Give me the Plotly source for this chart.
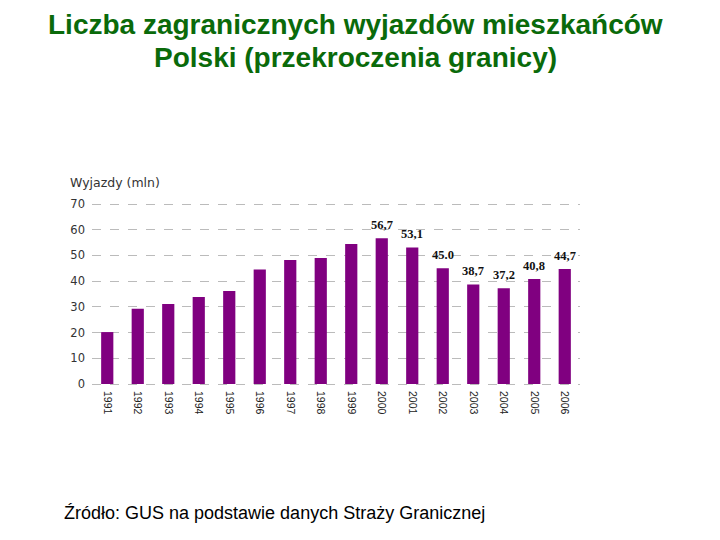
import plotly.graph_objects as go

years = ["1991", "1992", "1993", "1994", "1995", "1996", "1997", "1998",
         "1999", "2000", "2001", "2002", "2003", "2004", "2005", "2006"]
values = [20.2, 29.3, 31.1, 33.8, 36.2, 44.5, 48.2, 49.0,
          54.4, 56.7, 53.1, 45.0, 38.7, 37.2, 40.8, 44.7]
labels = ["", "", "", "", "", "", "", "",
          "", "56,7", "53,1", "45.0", "38,7", "37,2", "40,8", "44,7"]
y_ticks = [0, 10, 20, 30, 40, 50, 60, 70]

OFF = 8  # page body offset
PADPX = 3
PAD = PADPX * 70 / 180.0
L, R, T, B = 92 - OFF, 140 + OFF, 204 - PADPX - OFF, 540 - (384 + PADPX - OFF)
plot_w = 720 - L - R
plot_h = 540 - T - B

def px_to_paper(px, py):
    return (px - OFF - L) / plot_w, (540 - B - (py - OFF)) / plot_h

fig = go.Figure()
fig.add_trace(go.Bar(
    x=years, y=values,
    marker=dict(color="#800080", line=dict(width=0)),
    hoverinfo="skip",
))

anns = []
for i, (v, lab) in enumerate(zip(values, labels)):
    if lab:
        anns.append(dict(x=i, y=v, xref="x", yref="y", text="<b>" + lab + "</b>",
                         showarrow=False, yanchor="bottom", yshift=4,
                         font=dict(family="Liberation Serif", size=12.5, color="#111111")))

def ptext(text, px, py, size, color, family, xanchor="center", bold=False):
    x, y = px_to_paper(px, py)
    return dict(text=("<b>%s</b>" % text) if bold else text, x=x, y=y,
                xref="paper", yref="paper", showarrow=False,
                xanchor=xanchor, yanchor="middle",
                font=dict(family=family, size=size, color=color))

anns.append(ptext("Liczba zagranicznych wyjazdów mieszkańców", 355, 24, 28,
                  "#0a6a0a", "Liberation Sans", bold=True))
anns.append(ptext("Polski (przekroczenia granicy)", 355, 57, 28,
                  "#0a6a0a", "Liberation Sans", bold=True))
anns.append(ptext("Wyjazdy (mln)", 68, 182, 12.5, "#333333", "DejaVu Sans", xanchor="left"))
anns.append(ptext("Źródło: GUS na podstawie danych Straży Granicznej", 62, 513, 18,
                  "#000000", "Liberation Sans", xanchor="left"))

fig.update_layout(
    width=720, height=540,
    margin=dict(l=L, r=R, t=T, b=B, autoexpand=False),
    paper_bgcolor="white", plot_bgcolor="white",
    showlegend=False, bargap=0.6,
    xaxis=dict(type="category", range=[-0.5, len(years) - 0.5], tickangle=90,
               showgrid=False, showline=False, ticks="", ticklabelstandoff=3,
               tickfont=dict(family="Liberation Sans", size=10.5, color="#222222")),
    yaxis=dict(range=[-PAD, 70 + PAD], tickvals=y_ticks, showgrid=True, gridcolor="#bbbbbb",
               griddash="dash", gridwidth=1, zeroline=False, showline=False, ticks="",
               ticklabelstandoff=6,
               tickfont=dict(family="DejaVu Sans", size=11.5, color="#333333")),
    annotations=anns,
)

fig.write_html("out.html")
